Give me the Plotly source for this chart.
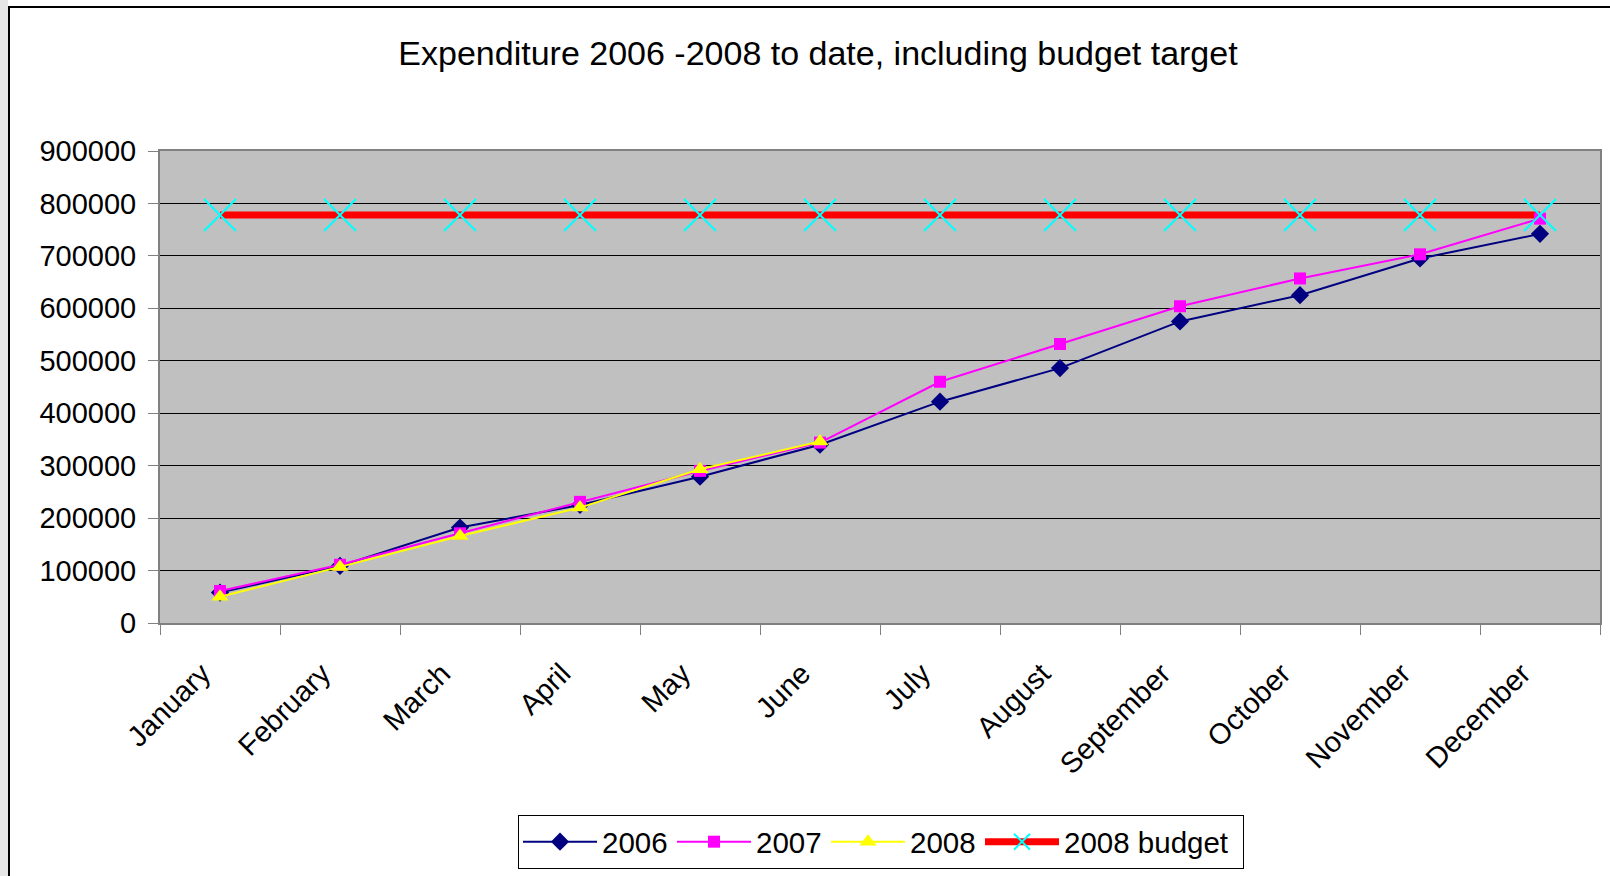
import plotly.graph_objects as go

months = ["January", "February", "March", "April", "May", "June", "July",
          "August", "September", "October", "November", "December"]
exp_2006 = [58000, 109000, 182000, 225000, 279000, 340000, 422000, 486000, 575000, 625000, 695000, 742000]
exp_2007 = [61000, 111000, 171000, 231000, 290000, 344000, 460000, 532000, 604000, 657000, 703000, 771000]
exp_2008 = [50000, 107000, 166000, 220000, 293000, 346000]
budget_2008 = [778000] * 12
y_ticks = [0, 100000, 200000, 300000, 400000, 500000, 600000, 700000, 800000, 900000]

FONT = "Liberation Sans, Arial, sans-serif"
W, H = 1610, 876
L, R, T, B = 160, 10, 151, 253
pw, ph = W - L - R, H - T - B


def px_x(p):
    return (p - L) / pw


def px_y(p):
    return (H - B - p) / ph


fig = go.Figure()

fig.add_trace(go.Scatter(x=months, y=budget_2008, mode="lines", name="2008 budget",
                         line=dict(color="#FF0000", width=7), showlegend=False,
                         legendgroup="b", hoverinfo="skip"))
fig.add_trace(go.Scatter(x=months, y=exp_2006, mode="lines+markers", name="2006",
                         line=dict(color="#000080", width=2), legendwidth=65,
                         marker=dict(symbol="diamond", size=14, color="#000080")))
fig.add_trace(go.Scatter(x=months, y=exp_2007, mode="lines+markers", name="2007",
                         line=dict(color="#FF00FF", width=2), legendwidth=65,
                         marker=dict(symbol="square", size=12, color="#FF00FF")))
fig.add_trace(go.Scatter(x=months[:len(exp_2008)], y=exp_2008, mode="lines+markers", name="2008",
                         line=dict(color="#FFFF00", width=2), legendwidth=65,
                         marker=dict(symbol="triangle-up", size=15, color="#FFFF00")))
fig.add_trace(go.Scatter(x=months, y=budget_2008, mode="markers", name="2008 budget",
                         marker=dict(symbol="x-thin", size=32, color="#00FFFF",
                                     line=dict(color="#00FFFF", width=2)),
                         showlegend=False, legendgroup="b"))
fig.add_trace(go.Scatter(x=[None], y=[None], mode="lines+markers", name="2008 budget",
                         line=dict(color="#FF0000", width=7), legendgroup="b", legendwidth=174,
                         marker=dict(symbol="x-thin", size=26, color="#00FFFF",
                                     line=dict(color="#00FFFF", width=2))))

fig.update_layout(
    width=W, height=H,
    margin=dict(l=L, r=R, t=T, b=B, autoexpand=False),
    paper_bgcolor="white",
    plot_bgcolor="#C0C0C0",
    font=dict(family=FONT, size=29, color="black"),
    title=dict(text="Expenditure 2006 -2008 to date, including budget target",
               x=818 / W, xref="container", xanchor="center",
               y=1 - 53 / H, yref="container", yanchor="middle",
               font=dict(family=FONT, size=34, color="black")),
    showlegend=True,
    legend=dict(orientation="h", x=px_x(518), xanchor="left",
                y=px_y(815), yanchor="top",
                bgcolor="white", bordercolor="black", borderwidth=1,
                font=dict(family=FONT, size=29.5, color="black"),
                itemsizing="trace", itemwidth=74, tracegroupgap=0),
    hovermode=False,
    shapes=[
        dict(type="rect", xref="paper", yref="paper",
             x0=px_x(0), x1=px_x(8), y0=px_y(H + 5), y1=px_y(-5),
             fillcolor="#E6E6E6", line=dict(width=0), layer="below"),
        dict(type="rect", xref="paper", yref="paper",
             x0=px_x(9), x1=px_x(W + 20), y0=px_y(H + 20), y1=px_y(7),
             fillcolor="rgba(0,0,0,0)", line=dict(color="black", width=2), layer="below"),
    ],
)

fig.update_xaxes(
    type="category", categoryorder="array", categoryarray=months,
    range=[-0.5, 11.5], tickson="boundaries", ticks="outside", ticklen=10,
    tickcolor="#808080", tickwidth=1, tickangle=-45,
    ticklabelstandoff=20, ticklabelshift=-18,
    showgrid=False, zeroline=False,
    showline=True, linecolor="#808080", linewidth=2, mirror=True,
    tickfont=dict(family=FONT, size=29, color="black"),
)
fig.update_yaxes(
    range=[0, 900000], tickvals=y_ticks, tickformat="d",
    ticks="outside", ticklen=10, tickcolor="#808080", tickwidth=1,
    ticklabelstandoff=6,
    showgrid=True, gridcolor="black", gridwidth=1, zeroline=False,
    showline=True, linecolor="#808080", linewidth=2, mirror=True,
    tickfont=dict(family=FONT, size=29, color="black"),
)

fig.write_html("out.html", config={"displayModeBar": False},
               post_script="document.body.style.margin='0';document.body.style.overflow='hidden';")
